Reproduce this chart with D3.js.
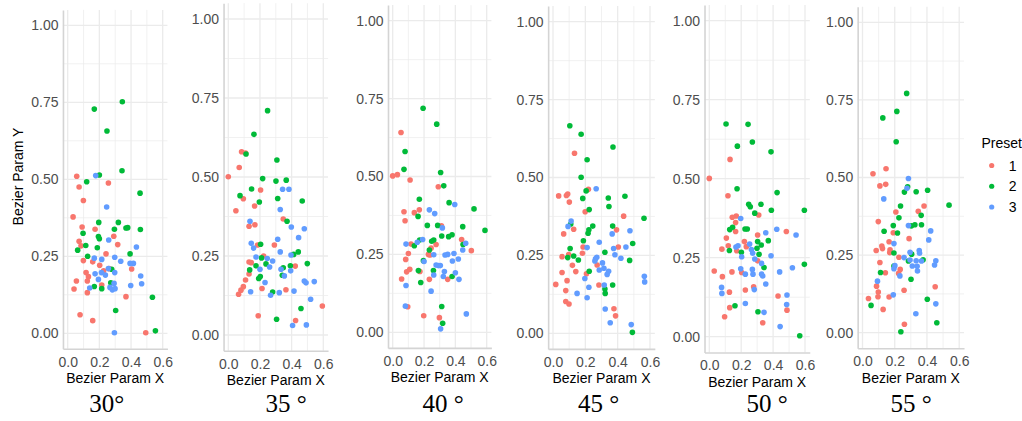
<!DOCTYPE html>
<html>
<head>
<meta charset="utf-8">
<script src="https://cdn.jsdelivr.net/npm/d3@7"></script>
<style>
  body { margin: 0; background: #ffffff; }
  svg { display: block; }
</style>
</head>
<body>
<svg id="chart" width="1022" height="421"></svg>
<script>
// ---- data -------------------------------------------------------------
const angleLabels = ["30°", "35 °", "40 °", "45 °", "50 °", "55 °"];
const presets = ["1", "2", "3"];
const presetColors = ["#F8766D", "#00BA38", "#619CFF"];
const xTicks = [0.0, 0.2, 0.4, 0.6];
const yTicks = [0.00, 0.25, 0.50, 0.75, 1.00];
const xTitle = "Bezier Param X";
const yTitle = "Bezier Param Y";
const legendTitle = "Preset";

// [Bezier Param X, Bezier Param Y] per angle and preset
const a30p1 = [[0.057,0.51],[0.072,0.475],[0.257,0.488],[0.099,0.431],[0.034,0.378],[0.091,0.345],[0.173,0.338],[0.291,0.315],[0.072,0.299],[0.084,0.284],[0.316,0.288],[0.099,0.236],[0.158,0.232],[0.242,0.258],[0.202,0.221],[0.116,0.197],[0.131,0.184],[0.124,0.17],[0.055,0.17],[0.227,0.203],[0.261,0.21],[0.404,0.209],[0.04,0.144],[0.124,0.132],[0.215,0.157],[0.368,0.119],[0.078,0.06],[0.158,0.041],[0.493,0.002]];
const a30p2 = [[0.168,0.728],[0.345,0.752],[0.248,0.657],[0.2,0.514],[0.343,0.528],[0.12,0.492],[0.457,0.455],[0.196,0.36],[0.32,0.36],[0.295,0.338],[0.368,0.342],[0.379,0.343],[0.459,0.337],[0.097,0.325],[0.194,0.314],[0.2,0.307],[0.114,0.285],[0.063,0.27],[0.187,0.278],[0.126,0.25],[0.394,0.258],[0.278,0.208],[0.272,0.164],[0.168,0.152],[0.215,0.145],[0.535,0.117],[0.303,0.074],[0.554,0.008]];
const a30p3 = [[0.177,0.512],[0.246,0.41],[0.259,0.303],[0.434,0.28],[0.168,0.244],[0.215,0.24],[0.297,0.247],[0.335,0.234],[0.394,0.227],[0.415,0.227],[0.173,0.193],[0.194,0.175],[0.213,0.197],[0.238,0.189],[0.257,0.21],[0.297,0.197],[0.293,0.162],[0.139,0.147],[0.267,0.149],[0.282,0.141],[0.299,0.145],[0.398,0.155],[0.461,0.186],[0.467,0.161],[0.295,0.002]];

const a35p1 = [[0.084,0.58],[0.109,0.576],[0.069,0.53],[0.0,0.501],[0.204,0.459],[0.095,0.431],[0.166,0.408],[0.048,0.393],[0.347,0.367],[0.168,0.349],[0.131,0.344],[0.185,0.285],[0.291,0.285],[0.223,0.25],[0.131,0.231],[0.145,0.229],[0.131,0.193],[0.423,0.218],[0.109,0.174],[0.095,0.153],[0.213,0.147],[0.08,0.142],[0.065,0.129],[0.364,0.143],[0.594,0.092],[0.189,0.061],[0.425,0.046]];
const a35p2 = [[0.248,0.71],[0.162,0.635],[0.112,0.573],[0.307,0.554],[0.217,0.495],[0.301,0.487],[0.366,0.49],[0.147,0.462],[0.074,0.441],[0.312,0.432],[0.196,0.421],[0.467,0.424],[0.371,0.36],[0.204,0.287],[0.442,0.263],[0.413,0.255],[0.499,0.226],[0.21,0.244],[0.175,0.219],[0.238,0.225],[0.135,0.206],[0.347,0.213],[0.392,0.219],[0.341,0.189],[0.202,0.185],[0.192,0.179],[0.28,0.136],[0.459,0.084],[0.305,0.05]];
const a35p3 = [[0.343,0.461],[0.383,0.461],[0.328,0.397],[0.137,0.36],[0.398,0.342],[0.48,0.336],[0.444,0.308],[0.312,0.303],[0.145,0.29],[0.16,0.275],[0.328,0.263],[0.396,0.253],[0.246,0.242],[0.175,0.247],[0.261,0.215],[0.28,0.234],[0.2,0.208],[0.333,0.208],[0.394,0.203],[0.354,0.187],[0.232,0.166],[0.141,0.137],[0.415,0.139],[0.322,0.134],[0.267,0.126],[0.48,0.171],[0.491,0.165],[0.543,0.169],[0.52,0.113],[0.406,0.03],[0.493,0.032]];

const a40p1 = [[0.053,0.641],[0.0,0.502],[0.03,0.506],[0.111,0.489],[0.291,0.467],[0.17,0.393],[0.072,0.387],[0.138,0.384],[0.079,0.358],[0.311,0.342],[0.44,0.298],[0.502,0.262],[0.117,0.283],[0.277,0.282],[0.245,0.27],[0.1,0.253],[0.228,0.25],[0.238,0.248],[0.083,0.234],[0.109,0.202],[0.089,0.194],[0.174,0.195],[0.057,0.171],[0.234,0.17],[0.351,0.17],[0.096,0.082],[0.198,0.053],[0.298,0.047]];
const a40p2 = [[0.194,0.719],[0.281,0.668],[0.079,0.58],[0.072,0.523],[0.306,0.513],[0.326,0.47],[0.17,0.427],[0.36,0.416],[0.519,0.396],[0.162,0.372],[0.221,0.343],[0.287,0.343],[0.447,0.339],[0.589,0.327],[0.313,0.309],[0.357,0.307],[0.379,0.313],[0.172,0.296],[0.262,0.296],[0.249,0.292],[0.138,0.278],[0.449,0.282],[0.234,0.264],[0.196,0.23],[0.164,0.198],[0.26,0.198],[0.379,0.179],[0.179,0.16],[0.313,0.083],[0.319,0.029]];
const a40p3 = [[0.396,0.41],[0.234,0.393],[0.268,0.381],[0.317,0.335],[0.191,0.298],[0.157,0.289],[0.085,0.283],[0.466,0.286],[0.447,0.264],[0.262,0.249],[0.334,0.248],[0.351,0.25],[0.391,0.253],[0.419,0.235],[0.381,0.229],[0.2,0.227],[0.277,0.216],[0.291,0.214],[0.304,0.214],[0.33,0.195],[0.4,0.191],[0.262,0.184],[0.323,0.179],[0.423,0.17],[0.085,0.15],[0.245,0.132],[0.081,0.084],[0.47,0.059],[0.306,0.011]];

const a45p1 = [[0.133,0.578],[0.035,0.441],[0.083,0.442],[0.091,0.447],[0.219,0.462],[0.101,0.421],[0.199,0.39],[0.437,0.376],[0.128,0.334],[0.393,0.332],[0.066,0.319],[0.186,0.277],[0.404,0.277],[0.097,0.253],[0.182,0.257],[0.056,0.246],[0.273,0.219],[0.12,0.218],[0.141,0.198],[0.056,0.195],[0.207,0.191],[0.087,0.169],[0.017,0.157],[0.284,0.155],[0.079,0.137],[0.079,0.102],[0.099,0.094],[0.377,0.079],[0.387,0.056]];
const a45p2 = [[0.104,0.666],[0.174,0.639],[0.371,0.598],[0.211,0.557],[0.174,0.501],[0.205,0.457],[0.445,0.44],[0.342,0.434],[0.184,0.433],[0.346,0.407],[0.224,0.397],[0.563,0.369],[0.11,0.351],[0.246,0.344],[0.369,0.344],[0.222,0.332],[0.217,0.321],[0.188,0.297],[0.493,0.288],[0.106,0.272],[0.321,0.26],[0.091,0.243],[0.128,0.248],[0.157,0.235],[0.474,0.234],[0.224,0.199],[0.369,0.155],[0.321,0.142],[0.323,0.128],[0.491,0.003]];
const a45p3 = [[0.267,0.464],[0.112,0.36],[0.093,0.343],[0.476,0.329],[0.366,0.319],[0.286,0.292],[0.451,0.277],[0.211,0.275],[0.375,0.272],[0.383,0.252],[0.42,0.241],[0.271,0.244],[0.263,0.239],[0.259,0.232],[0.306,0.226],[0.315,0.209],[0.286,0.203],[0.344,0.199],[0.335,0.189],[0.197,0.176],[0.317,0.155],[0.222,0.148],[0.149,0.128],[0.211,0.114],[0.323,0.078],[0.354,0.034],[0.484,0.028],[0.565,0.183],[0.567,0.165]];

const a50p1 = [[0.13,0.561],[0.0,0.501],[0.117,0.446],[0.169,0.382],[0.144,0.378],[0.31,0.385],[0.165,0.361],[0.483,0.333],[0.165,0.333],[0.303,0.322],[0.107,0.312],[0.22,0.301],[0.119,0.288],[0.232,0.285],[0.079,0.277],[0.172,0.272],[0.303,0.24],[0.031,0.208],[0.142,0.205],[0.203,0.203],[0.082,0.19],[0.278,0.158],[0.226,0.148],[0.126,0.141],[0.431,0.129],[0.128,0.092],[0.487,0.084],[0.096,0.063],[0.335,0.044]];
const a50p2 = [[0.105,0.673],[0.243,0.672],[0.27,0.616],[0.176,0.603],[0.387,0.585],[0.174,0.468],[0.425,0.456],[0.247,0.419],[0.257,0.411],[0.324,0.419],[0.389,0.4],[0.596,0.4],[0.285,0.391],[0.146,0.346],[0.128,0.339],[0.224,0.341],[0.238,0.341],[0.37,0.304],[0.303,0.301],[0.326,0.29],[0.299,0.28],[0.126,0.273],[0.201,0.267],[0.312,0.261],[0.343,0.219],[0.596,0.229],[0.161,0.098],[0.305,0.079],[0.567,0.003]];
const a50p3 = [[0.197,0.374],[0.354,0.329],[0.423,0.34],[0.544,0.322],[0.253,0.293],[0.18,0.288],[0.167,0.284],[0.264,0.276],[0.272,0.264],[0.387,0.256],[0.203,0.253],[0.285,0.246],[0.328,0.232],[0.521,0.218],[0.197,0.215],[0.27,0.213],[0.226,0.198],[0.274,0.198],[0.328,0.198],[0.335,0.192],[0.441,0.205],[0.354,0.167],[0.077,0.156],[0.282,0.149],[0.079,0.137],[0.487,0.132],[0.485,0.102],[0.226,0.105],[0.343,0.077],[0.444,0.032]];

const a55p1 = [[0.146,0.528],[0.065,0.512],[0.144,0.478],[0.108,0.473],[0.382,0.408],[0.346,0.391],[0.207,0.389],[0.098,0.358],[0.191,0.322],[0.165,0.293],[0.289,0.303],[0.12,0.279],[0.124,0.271],[0.085,0.265],[0.171,0.267],[0.169,0.258],[0.226,0.243],[0.108,0.226],[0.234,0.204],[0.224,0.191],[0.142,0.193],[0.087,0.15],[0.451,0.148],[0.098,0.131],[0.258,0.137],[0.096,0.116],[0.165,0.115],[0.037,0.11],[0.128,0.075],[0.26,0.027]];
const a55p2 = [[0.274,0.771],[0.213,0.713],[0.126,0.692],[0.209,0.615],[0.28,0.47],[0.26,0.453],[0.333,0.454],[0.404,0.459],[0.537,0.411],[0.236,0.408],[0.364,0.378],[0.226,0.37],[0.191,0.345],[0.303,0.344],[0.325,0.348],[0.366,0.348],[0.134,0.327],[0.217,0.321],[0.195,0.257],[0.305,0.253],[0.376,0.235],[0.285,0.231],[0.195,0.215],[0.112,0.194],[0.301,0.172],[0.402,0.108],[0.053,0.088],[0.461,0.032],[0.238,0.003]];
const a55p3 = [[0.285,0.497],[0.276,0.465],[0.132,0.431],[0.285,0.345],[0.423,0.328],[0.411,0.299],[0.195,0.287],[0.295,0.259],[0.352,0.265],[0.354,0.256],[0.258,0.242],[0.295,0.234],[0.333,0.232],[0.366,0.231],[0.455,0.232],[0.447,0.218],[0.309,0.215],[0.339,0.214],[0.341,0.199],[0.201,0.216],[0.195,0.206],[0.232,0.183],[0.093,0.166],[0.191,0.122],[0.455,0.093],[0.331,0.061]];

const panelSeries = [
  [a30p1, a30p2, a30p3],
  [a35p1, a35p2, a35p3],
  [a40p1, a40p2, a40p3],
  [a45p1, a45p2, a45p3],
  [a50p1, a50p2, a50p3],
  [a55p1, a55p2, a55p3]
];

// ---- layout -----------------------------------------------------------
// pixel positions of x = 0 / 0.6 and y = 0 / 1 for each panel, and the caption centre
const frames = [
  { x0: 67.7,  x6: 162.7, y0: 333.3, y1: 25.3, cap: 106.7 },
  { x0: 228.3, x6: 323.3, y0: 335.0, y1: 19.0, cap: 286.0 },
  { x0: 392.7, x6: 486.7, y0: 332.3, y1: 20.7, cap: 443.0 },
  { x0: 553.0, x6: 650.0, y0: 333.3, y1: 21.7, cap: 598.7 },
  { x0: 709.3, x6: 805.0, y0: 336.7, y1: 20.7, cap: 767.0 },
  { x0: 862.5, x6: 959.2, y0: 332.7, y1: 22.3, cap: 911.0 }
];

const sansFont = "'Liberation Sans', Arial, sans-serif";
const serifFont = "'Liberation Serif', 'Times New Roman', serif";
const gridColor = "#ebebeb";
const axisColor = "#d4d4d4";

const svg = d3.select("#chart");

frames.forEach((f, i) => {
  const xUnit = (f.x6 - f.x0) / 0.6;
  const yUnit = (f.y0 - f.y1);
  // 5% padding around the fixed 0–0.6 / 0–1 limits
  const x = d3.scaleLinear()
    .domain([-0.03, 0.63])
    .range([f.x0 - 0.03 * xUnit, f.x6 + 0.03 * xUnit]);
  const y = d3.scaleLinear()
    .domain([-0.05, 1.05])
    .range([f.y0 + 0.05 * yUnit, f.y1 - 0.05 * yUnit]);

  const [left, right] = x.range();
  const [bottom, top] = y.range();
  const g = svg.append("g");

  // minor grid
  const xMinor = [0.1, 0.3, 0.5];
  const yMinor = [0.125, 0.375, 0.625, 0.875];
  g.append("g").selectAll("line").data(xMinor).join("line")
    .attr("x1", d => x(d)).attr("x2", d => x(d))
    .attr("y1", top).attr("y2", bottom)
    .attr("stroke", gridColor).attr("stroke-width", 0.7);
  g.append("g").selectAll("line").data(yMinor).join("line")
    .attr("x1", left).attr("x2", right)
    .attr("y1", d => y(d)).attr("y2", d => y(d))
    .attr("stroke", gridColor).attr("stroke-width", 0.7);

  // major grid
  g.append("g").selectAll("line").data(xTicks).join("line")
    .attr("x1", d => x(d)).attr("x2", d => x(d))
    .attr("y1", top).attr("y2", bottom)
    .attr("stroke", gridColor).attr("stroke-width", 1.3);
  g.append("g").selectAll("line").data(yTicks).join("line")
    .attr("x1", left).attr("x2", right)
    .attr("y1", d => y(d)).attr("y2", d => y(d))
    .attr("stroke", gridColor).attr("stroke-width", 1.3);

  // axes
  const yAxis = g.append("g")
    .attr("transform", `translate(${left},0)`)
    .call(d3.axisLeft(y).tickValues(yTicks).tickFormat(d3.format(".2f"))
      .tickSize(0).tickPadding(4.5));
  const xAxis = g.append("g")
    .attr("transform", `translate(0,${bottom})`)
    .call(d3.axisBottom(x).tickValues(xTicks).tickFormat(d3.format(".1f"))
      .tickSize(0).tickPadding(8));
  [yAxis, xAxis].forEach(a => {
    a.select(".domain").attr("stroke", axisColor).attr("stroke-width", 1.6);
    a.selectAll("text")
      .attr("fill", "#4d4d4d")
      .style("font-family", sansFont)
      .style("font-size", "14px");
  });

  // points
  panelSeries[i].forEach((series, k) => {
    g.append("g").selectAll("circle").data(series).join("circle")
      .attr("cx", d => x(d[0]))
      .attr("cy", d => y(d[1]))
      .attr("r", 2.8)
      .attr("fill", presetColors[k]);
  });

  // x title
  g.append("text")
    .attr("x", (left + right) / 2)
    .attr("y", bottom + 34.5)
    .attr("text-anchor", "middle")
    .style("font-family", sansFont)
    .style("font-size", "14px")
    .attr("fill", "#000")
    .text(xTitle);

  // angle caption
  g.append("text")
    .attr("x", f.cap)
    .attr("y", 412)
    .attr("text-anchor", "middle")
    .style("font-family", serifFont)
    .style("font-size", "25px")
    .attr("fill", "#000")
    .text(angleLabels[i]);

  // y title on the first panel only
  if (i === 0) {
    g.append("text")
      .attr("transform", "translate(23,176.5) rotate(-90)")
      .attr("text-anchor", "middle")
      .style("font-family", sansFont)
      .style("font-size", "14px")
      .attr("fill", "#000")
      .text(yTitle);
  }
});

// legend
const legend = svg.append("g");
legend.append("text")
  .attr("x", 981.5).attr("y", 148.3)
  .style("font-family", sansFont).style("font-size", "14px")
  .attr("fill", "#000")
  .text(legendTitle);
const legendY = d3.scalePoint().domain(presets).range([165.5, 207]);
presets.forEach((p, k) => {
  legend.append("circle")
    .attr("cx", 991.7).attr("cy", legendY(p))
    .attr("r", 2.6).attr("fill", presetColors[k]);
  legend.append("text")
    .attr("x", 1008.8).attr("y", legendY(p) + 5)
    .style("font-family", sansFont).style("font-size", "14px")
    .attr("fill", "#000")
    .text(p);
});
</script>
</body>
</html>
